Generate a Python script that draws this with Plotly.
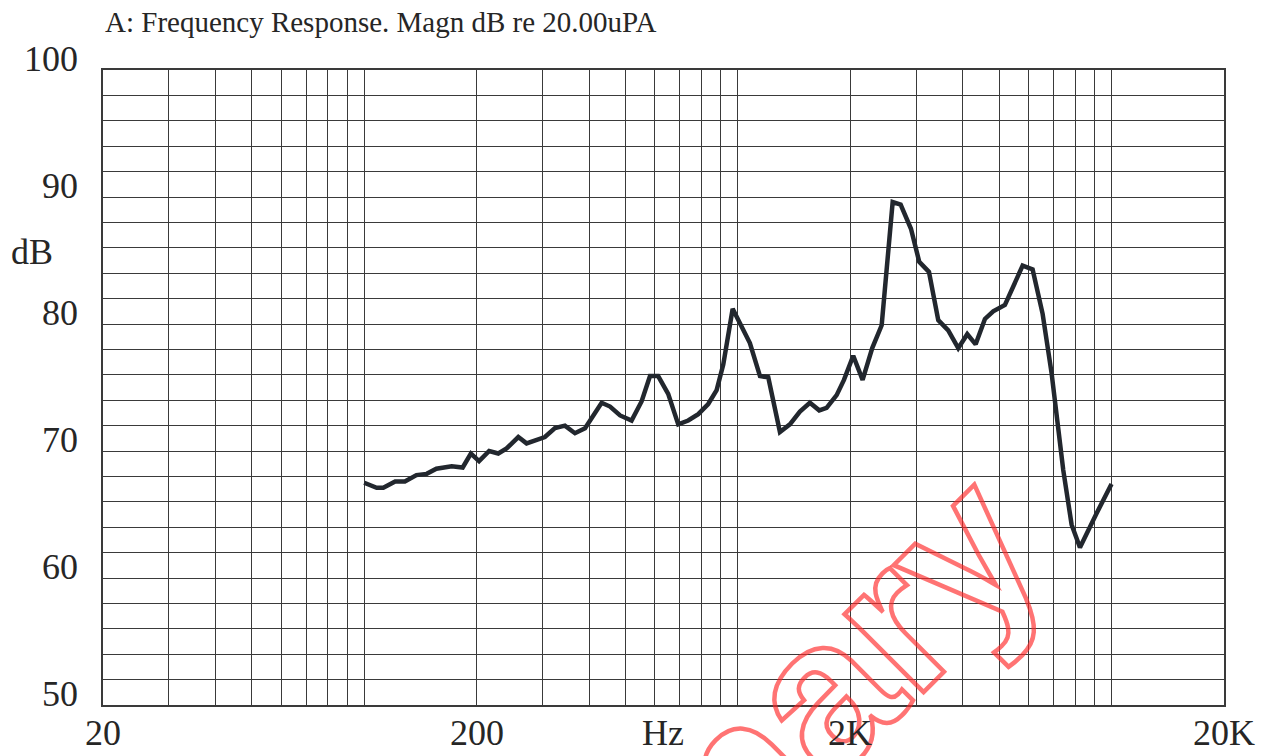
import numpy as np
import plotly.graph_objects as go

# ---- data ----
freq_hz = [100, 108, 112.5, 121, 128.5, 138, 147, 156, 171.5, 183.5,
           193, 203, 216, 228.5, 240.5, 258.5, 272, 289.5, 304.5, 324,
           344.5, 366.5, 390, 432, 455, 484, 519.5, 552.5, 582, 612,
           651, 692.5, 736.5, 783.5, 833, 877.5, 914, 968.5, 1024, 1077,
           1146, 1206, 1296, 1378, 1466, 1559, 1651, 1728, 1838, 1923,
           2036, 2157, 2289, 2426, 2596, 2727, 2906, 3058, 3247, 3438,
           3656, 3889, 4111, 4329, 4584, 4824, 5185, 5457, 5783, 6150,
           6541, 6914, 7427, 7820, 8232, 9124, 10000]
level_db = [67.5, 67.1, 67.1, 67.6, 67.6, 68.1, 68.2, 68.6, 68.8, 68.7,
            69.8, 69.2, 70.0, 69.8, 70.2, 71.1, 70.6, 70.9, 71.1, 71.8,
            72.0, 71.4, 71.8, 73.8, 73.5, 72.8, 72.4, 73.9, 75.9, 75.9,
            74.5, 72.1, 72.4, 72.9, 73.7, 74.8, 76.8, 81.2, 79.8, 78.5,
            75.9, 75.8, 71.5, 72.1, 73.1, 73.8, 73.2, 73.4, 74.4, 75.6,
            77.5, 75.6, 78.1, 79.9, 89.6, 89.4, 87.5, 84.9, 84.1, 80.3,
            79.5, 78.1, 79.2, 78.4, 80.4, 81.0, 81.5, 82.9, 84.6, 84.3,
            80.8, 76.1, 68.5, 64.2, 62.4, 65.1, 67.4]

x_grid_hz = [20, 30, 40, 50, 60, 70, 80, 90,
             100, 200, 300, 400, 500, 600, 700, 800, 900,
             1000, 2000, 3000, 4000, 5000, 6000, 7000, 8000, 9000,
             10000, 20000]
x_label_hz = [20, 200, 2000, 20000]
x_label_text = ["20", "200", "2K", "20K"]
y_label_db = [50, 60, 70, 80, 90, 100]
y_label_text = ["50", "60", "70", "80", "90", "100"]

title_text = "A: Frequency Response. Magn dB re 20.00uPA"
y_unit = "dB"
x_unit = "Hz"
watermark = "Preliminary"

SERIF = "Liberation Serif"
TXT = "#262626"
GRID = "#3a3a3a"

fig = go.Figure()
fig.add_trace(go.Scatter(
    x=freq_hz, y=level_db, mode="lines",
    line=dict(color="#22272e", width=4.5),
    hoverinfo="skip", showlegend=False))

fig.update_xaxes(
    type="log", range=[np.log10(20), np.log10(20000)],
    tickmode="array", tickvals=x_grid_hz, showticklabels=False, ticks="",
    showgrid=True, gridcolor=GRID, gridwidth=1.2, zeroline=False,
    showline=True, linecolor=GRID, linewidth=1.5, mirror=True)
fig.update_yaxes(
    range=[50, 100], tick0=50, dtick=2, showticklabels=False, ticks="",
    showgrid=True, gridcolor=GRID, gridwidth=1.2, zeroline=False,
    showline=True, linecolor=GRID, linewidth=1.5, mirror=True)

annotations = []
# watermark first (drawn underneath the other texts)
annotations.append(dict(
    text=watermark, xref="paper", yref="paper", x=0.4412, y=-0.3315,
    xanchor="center", yanchor="middle", textangle=-45, showarrow=False,
    font=dict(family="Liberation Sans", size=210, weight="bold",
              color="rgba(255,0,0,0.25)")))

for v, t in zip(y_label_db, y_label_text):
    annotations.append(dict(
        text=t, xref="paper", yref="y", x=-0.0205, y=v, yshift=11,
        xanchor="right", yanchor="middle", showarrow=False,
        font=dict(family=SERIF, size=36, color=TXT)))
for v, t in zip(x_label_hz, x_label_text):
    annotations.append(dict(
        text=t, xref="x", yref="paper", x=np.log10(v), y=-0.0441,
        xanchor="center", yanchor="middle", showarrow=False,
        font=dict(family=SERIF, size=36, color=TXT)))
annotations.append(dict(
    text=x_unit, xref="paper", yref="paper", x=0.4996, y=-0.0441,
    xanchor="center", yanchor="middle", showarrow=False,
    font=dict(family=SERIF, size=36, color=TXT)))
annotations.append(dict(
    text=y_unit, xref="paper", yref="paper", x=-0.0636, y=0.7134,
    xanchor="center", yanchor="middle", showarrow=False,
    font=dict(family=SERIF, size=36, color=TXT)))
annotations.append(dict(
    text=title_text, xref="paper", yref="paper", x=0.0, y=1.0756,
    xanchor="left", yanchor="middle", showarrow=False,
    font=dict(family=SERIF, size=29, color=TXT)))

fig.update_layout(
    width=1269, height=756,
    margin=dict(l=103, r=45, t=70, b=51),
    paper_bgcolor="white", plot_bgcolor="white",
    annotations=annotations, showlegend=False)

post = """
document.body.style.margin = '0';
document.body.style.padding = '0';
document.body.style.overflow = 'hidden';
var gd = document.getElementById('{plot_id}');
function styleWM(){
  gd.querySelectorAll('text.annotation-text').forEach(function(t){
    if (t.textContent.indexOf('Preliminary') >= 0){
      t.style.fill = 'none';
      t.style.stroke = 'rgba(255,40,40,0.65)';
      t.style.strokeWidth = '4.5px';
      t.style.strokeLinejoin = 'miter';
    }
  });
}
styleWM();
if (gd.on) { gd.on('plotly_afterplot', styleWM); }
"""

fig.write_html("out.html", post_script=post, config={"displayModeBar": False})
